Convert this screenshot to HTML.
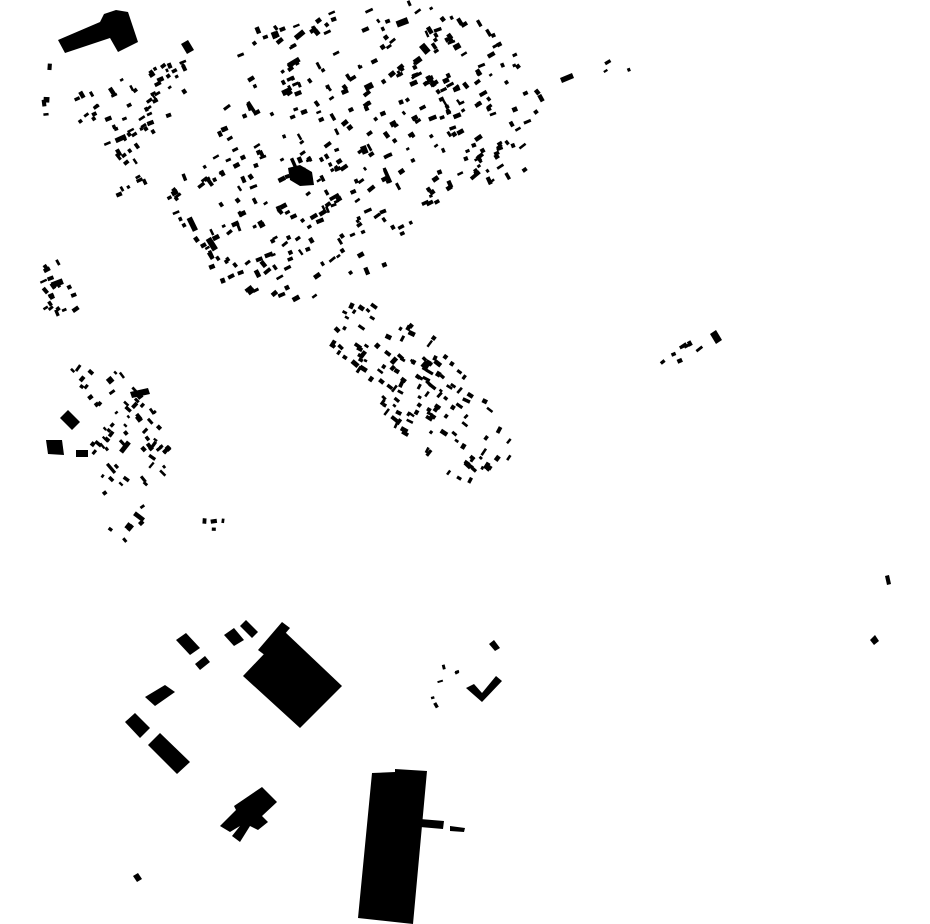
<!DOCTYPE html>
<html><head><meta charset="utf-8">
<style>html,body{margin:0;padding:0;background:#fff;}svg{display:block}</style>
</head><body>
<svg id="s" width="930" height="924" viewBox="0 0 930 924" xmlns="http://www.w3.org/2000/svg">
<g fill="#000">
<polygon points="58,40 100,22 104,14 116,10 128,12 138,42 118,52 110,38 65,53"/>
<polygon points="243,676 285,632 342,686 300,728"/>
<polygon points="258,650 282,622 290,628 266,656"/>
<polygon points="125,722 135,713 150,728 140,738"/>
<polygon points="148,745 160,733 190,762 177,774"/>
<polygon points="220,826 236,810 234,806 262,787 277,802 262,816 268,822 258,830 250,826 240,842 232,836 240,826 230,832"/>
<polygon points="372,773 395,772 395,769 427,771 413,924 358,918"/>
<polygon points="420,819 444,821 443,829 420,827"/>
<polygon points="450,826 465,828 464,832 450,831"/>
<polygon points="133,876 138,873 142,879 137,882"/>
<polygon points="176,640 186,633 200,648 190,655"/>
<polygon points="224,635 234,628 244,640 234,646"/>
<polygon points="240,626 246,620 258,632 252,638"/>
<polygon points="145,697 165,685 175,692 155,706"/>
<polygon points="195,664 205,656 210,662 200,670"/>
<polygon points="466,688 474,684 482,693 496,676 502,681 482,702"/>
<polygon points="489,644 494,640 500,648 495,651"/>
<polygon points="710,334 716,330 722,340 716,344"/>
<polygon points="885,576 889,575 891,584 887,585"/>
<polygon points="870,640 875,635 879,641 874,645"/>
<polygon points="46,440 62,440 64,455 48,454"/>
<polygon points="60,418 68,410 80,422 72,430"/>
<polygon points="76,450 88,450 88,457 76,457"/>
<polygon points="560,78 572,73 574,78 562,83"/>
<polygon points="181,44 188,40 194,50 187,54"/>
<polygon points="288,168 300,165 312,172 314,185 300,186 290,180"/>
<polygon points="130,392 148,388 150,394 132,398"/>
</g>
<g id="g" fill="#000"></g>
</svg>
<script>
(function(){
var seed=12345;function r(){seed|=0;seed=seed+0x6D2B79F5|0;var t=Math.imul(seed^seed>>>15,1|seed);t=t+Math.imul(t^t>>>7,61|t)^t;return((t^t>>>14)>>>0)/4294967296;}
function inside(p,x,y){var c=false;for(var i=0,j=p.length-1;i<p.length;j=i++){var xi=p[i][0],yi=p[i][1],xj=p[j][0],yj=p[j][1];if(((yi>y)!=(yj>y))&&(x<(xj-xi)*(y-yi)/(yj-yi)+xi))c=!c;}return c;}
var regions=[
{p:[[240,30],[300,15],[430,0],[480,20],[545,85],[525,170],[440,205],[380,270],[320,300],[230,295],[195,245],[165,195],[200,150],[230,90]],n:420,ang:-30,s:0.8},
{p:[[75,95],[120,80],[185,55],[185,95],[150,140],[145,195],[115,195],[105,135],[75,132]],n:70,ang:-30,s:0.75},
{p:[[355,302],[415,312],[530,450],[465,495],[375,405],[320,335]],n:140,ang:35,s:0.8},
{p:[[40,262],[72,262],[82,310],[45,318]],n:20,ang:-30,s:0.75},
{p:[[68,360],[120,370],[150,400],[176,465],[145,490],[140,545],[112,540],[90,440],[85,400]],n:75,ang:45,s:0.75},
{p:[[655,345],[700,338],[705,350],[660,375]],n:8,ang:-30,s:0.8},
{p:[[420,660],[470,665],[465,700],[425,710]],n:6,ang:-20,s:0.6},
{p:[[200,518],[232,518],[232,532],[200,532]],n:4,ang:0,s:0.7},
{p:[[38,60],[55,60],[52,120],[40,120]],n:4,ang:0,s:0.7},
{p:[[600,60],[630,60],[630,78],[600,78]],n:3,ang:-30,s:0.7}
];
var g=document.getElementById('g'),h='';
regions.forEach(function(R){var xs=R.p.map(function(a){return a[0]}),ys=R.p.map(function(a){return a[1]});
var x0=Math.min.apply(0,xs),x1=Math.max.apply(0,xs),y0=Math.min.apply(0,ys),y1=Math.max.apply(0,ys);
for(var k=0;k<R.n;){var x=x0+r()*(x1-x0),y=y0+r()*(y1-y0);if(!inside(R.p,x,y))continue;k++;
var w=(4+r()*6)*R.s,hh=(3+r()*3)*R.s;if(r()<0.05){w*=1.8;hh*=1.4;}
var a=R.ang+(r()<0.35?90:0)+(r()-0.5)*20;
h+='<rect x="'+(x-w/2).toFixed(1)+'" y="'+(y-hh/2).toFixed(1)+'" width="'+w.toFixed(1)+'" height="'+hh.toFixed(1)+'" transform="rotate('+a.toFixed(0)+' '+x.toFixed(1)+' '+y.toFixed(1)+')"/>';}
});
g.innerHTML=h;
})();
</script>
</body></html>
